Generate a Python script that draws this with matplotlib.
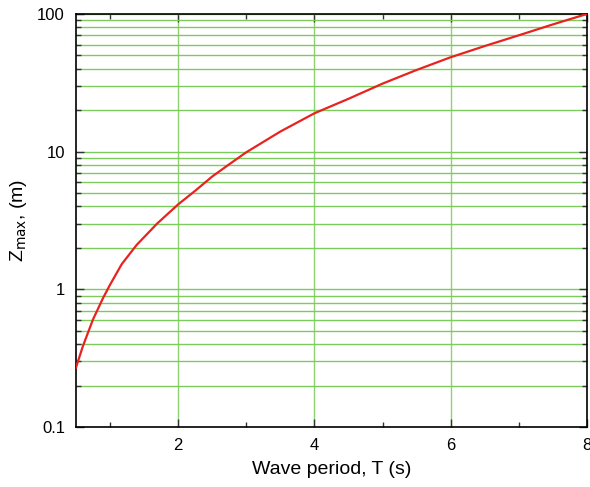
import matplotlib.pyplot as plt
from matplotlib.ticker import LogLocator, FixedLocator, FuncFormatter

# valores
periodo = [0.5, 0.6, 0.75, 0.9, 1.0, 1.17, 1.39, 1.69, 2.0, 2.25, 2.5, 2.75, 3.0,
           3.5, 4.0, 4.5, 5.0, 5.5, 6.0, 6.5, 7.0, 7.5, 8.0]
zmax = [0.27, 0.385, 0.605, 0.87, 1.08, 1.52, 2.1, 3.0, 4.14, 5.2, 6.6, 8.1, 9.9,
        14.0, 19.0, 24.2, 31.2, 39.2, 48.5, 58.5, 70.0, 84.0, 100.0]

plt.rcParams['font.family'] = ['Liberation Sans', 'DejaVu Sans']

fig = plt.figure(figsize=(5.9, 4.87), dpi=100)
ax = fig.add_axes([0.1288, 0.1232, 0.866, 0.8481])

ax.plot(periodo, zmax, color='#e8231f', lw=1.6, zorder=3, solid_joinstyle='round')

ax.set_yscale('log')
ax.set_xlim(0.5, 8)
ax.set_ylim(0.1, 100)

ax.xaxis.set_major_locator(FixedLocator([2, 4, 6, 8]))
ax.xaxis.set_minor_locator(FixedLocator([1, 3, 5, 7]))
ax.yaxis.set_major_locator(LogLocator(base=10))
ax.yaxis.set_minor_locator(LogLocator(base=10, subs=range(2, 10)))
ax.yaxis.set_major_formatter(FuncFormatter(lambda v, p: f'{v:g}'))
ax.yaxis.set_minor_formatter(FuncFormatter(lambda v, p: ''))

ax.grid(True, axis='x', which='major', color='#8fd270', lw=1.0)
ax.grid(True, axis='y', which='both', color='#7ccc5c', lw=1.0)

ax.tick_params(which='both', direction='in', top=True, right=True, labelsize=12, width=1.0, color='#333333')
ax.tick_params(which='major', length=6)
ax.tick_params(which='minor', length=3.5)
ax.tick_params(axis='x', pad=8)
ax.tick_params(axis='y', pad=8)

for s in ax.spines.values():
    s.set_linewidth(1.2)

ax.set_xlabel('Wave period, T (s)', fontsize=14, labelpad=6)
ax.set_ylabel('Z$_{\\mathrm{max}}$, (m)', fontsize=14, labelpad=6)

fig.savefig('out.png', dpi=100)
